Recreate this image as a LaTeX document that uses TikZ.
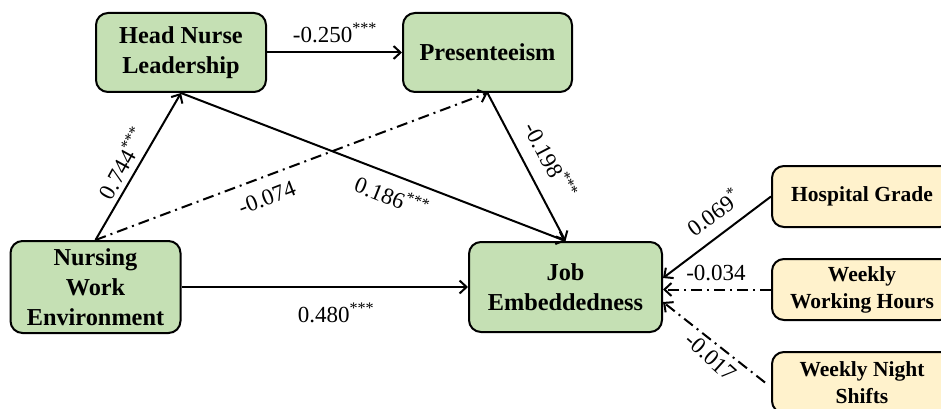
\documentclass[tikz,border=0pt]{standalone}
\usepackage{fontspec}
\setmainfont{Liberation Serif}
\usetikzlibrary{arrows.meta,calc}
\definecolor{boxgreen}{HTML}{C5E0B4}
\definecolor{boxyellow}{HTML}{FFF2CC}
\tikzset{
  box/.style={draw=black, line width=2pt, rounded corners=12pt, align=center, inner sep=0pt},
  gbox/.style={box, fill=boxgreen, font=\fontsize{24.3}{30}\selectfont\bfseries},
  ybox/.style={box, fill=boxyellow, font=\fontsize{21.5}{27}\selectfont\bfseries},
  conn/.style={line width=2pt, -{Straight Barb[length=7pt,width=13pt,line width=2pt]}},
  dashdot/.style={conn, dash pattern=on 11pt off 5pt on 2pt off 5pt},
  lab/.style={font=\fontsize{23}{26}\selectfont, inner sep=0pt}
}
\begin{document}
\begin{tikzpicture}[x=1pt,y=-1pt]
\useasboundingbox (0,0) rectangle (941,409);
\clip (0,0) rectangle (941,409);
\node[gbox, minimum width=170pt, minimum height=79pt] (hnl) at (181,52.5) {Head Nurse\\Leadership};
\node[gbox, minimum width=169pt, minimum height=79pt] (pres) at (487.5,52.5) {Presenteeism};
\node[gbox, minimum width=170pt, minimum height=92pt] (nwe) at (95.5,287) {Nursing\\Work\\Environment};
\node[gbox, minimum width=193pt, minimum height=90pt] (je) at (565.5,287) {Job\\Embeddedness};
\node[ybox, minimum width=180pt, minimum height=61pt] (hg) at (862,196.5) {Hospital Grade};
\node[ybox, minimum width=180pt, minimum height=61pt] (wwh) at (862,289.5) {Weekly\\Working Hours};
\node[ybox, minimum width=180pt, minimum height=61pt] (wns) at (862,382.5) {Weekly Night\\Shifts};

\draw[conn] (hnl.east) -- (pres.west);
\draw[conn] (nwe.north) -- (hnl.south);
\draw[dashdot] (nwe.north) -- (pres.south);
\draw[conn] (hnl.south) -- (je.north);
\draw[conn] (pres.south) -- (je.north);
\draw[conn] (nwe.east) -- (je.west);
\draw[conn] (hg.west) -- ($(je.east)+(0,-9)$);
\draw[dashdot] (wwh.west) -- (je.east |- wwh.west);
\draw[dashdot] ($(wns.west)+(-6,0)$) -- ($(je.east)+(0,15)$);

\node[lab] (l1) at (335,33) {-0.250\textsuperscript{***}};
\node[lab, rotate=61] (l2) at (122,163) {0.744\textsuperscript{***}};
\node[lab, rotate=21] (l3) at (267,198) {-0.074};
\node[lab, rotate=-21.7] (l4) at (392,196) {0.186\textsuperscript{***}};
\node[lab, rotate=-62.4] (l5) at (551,160) {-0.198\textsuperscript{***}};
\node[lab] (l6) at (336,313) {0.480\textsuperscript{***}};
\node[lab, rotate=36] (l7) at (713,212) {0.069\textsuperscript{*}};
\node[lab] (l8) at (716,273) {-0.034};
\node[lab, rotate=-42] (l9) at (711,357) {-0.017};
\end{tikzpicture}
\end{document}
